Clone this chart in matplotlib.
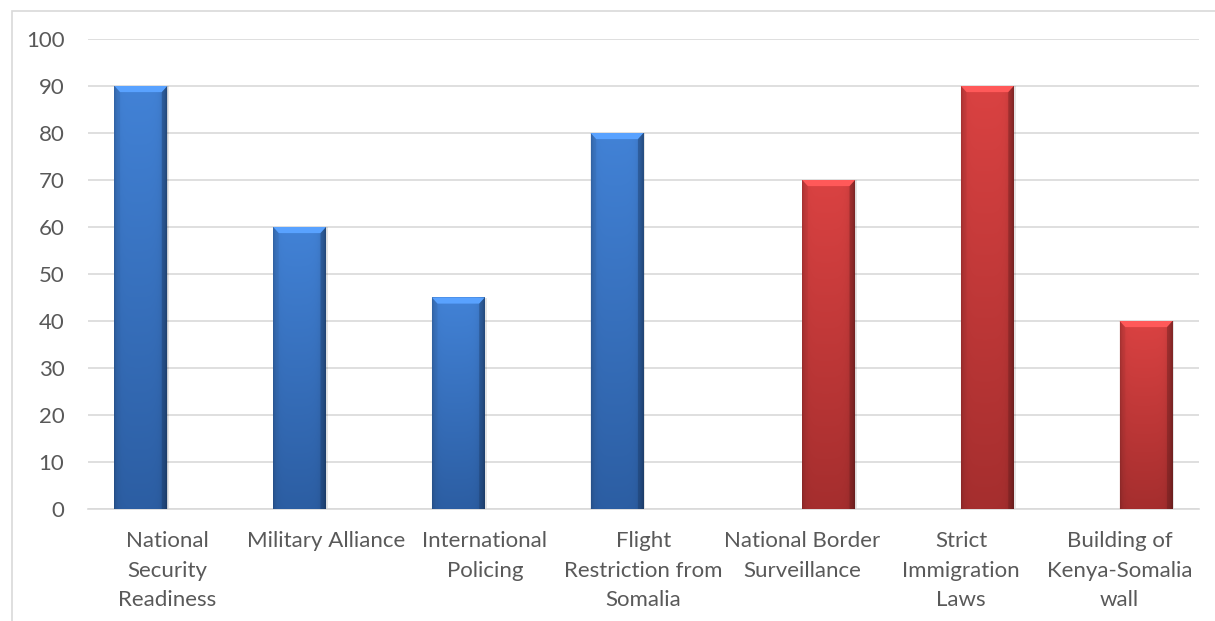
import numpy as np
import matplotlib
matplotlib.use("Agg")
import matplotlib.pyplot as plt
from matplotlib.patches import Rectangle, Polygon

categories = ["National\nSecurity\nReadiness", "Military Alliance", "International\nPolicing",
              "Flight\nRestriction from\nSomalia", "National Border\nSurveillance",
              "Strict\nImmigration\nLaws", "Building of\nKenya-Somalia\nwall"]
blue_values = [90, 60, 45, 80, 0, 0, 0]
red_values = [0, 0, 0, 0, 70, 90, 40]
y_ticks = [0, 10, 20, 30, 40, 50, 60, 70, 80, 90, 100]

plt.rcParams['font.family'] = ['Lato', 'DejaVu Sans']

W, H = 1215, 621
fig = plt.figure(figsize=(W / 100, H / 100), dpi=100)
ax = fig.add_axes([88 / W, (H - 509) / H, (1199 - 88) / W, (509 - 39) / H])

# figure border
fig.patches.append(Rectangle((11.5 / W, -0.1), 1.2, (H - 10.5) / H + 0.1,
                             transform=fig.transFigure, fill=False,
                             edgecolor='#D9D9D9', linewidth=1.2))

x = np.arange(len(categories))
bw = 1 / 3
bars_b = ax.bar(x - bw / 2, blue_values, width=bw, color='none', zorder=3)
bars_r = ax.bar(x + bw / 2, red_values, width=bw, color='none', zorder=3)

ax.set_xlim(-0.5, len(categories) - 0.5)
ax.set_ylim(0, 100)


def shade_bar(rect, top_rgb, bot_rgb):
    h = rect.get_height()
    if h <= 0:
        return
    x0 = rect.get_x()
    w = rect.get_width()
    nx, ny = 60, 200
    xs = np.linspace(0, 1, nx)
    ys = np.linspace(0, 1, ny)[:, None]  # 0 bottom -> 1 top
    top = np.array(top_rgb) / 255
    bot = np.array(bot_rgb) / 255
    base = bot + (top - bot) * ys[..., None]
    prof = 1 - 0.22 * np.exp(-xs / 0.05) - 0.35 * np.exp(-(1 - xs) / 0.06)
    img = base * prof[None, :, None]
    img = np.clip(img, 0, 1)
    ax.imshow(img, extent=[x0, x0 + w, 0, h], origin='lower',
              aspect='auto', zorder=3, interpolation='bilinear')
    # shadow on right
    ax.add_patch(Rectangle((x0 + w, 0), 0.012, h, color='#000000', alpha=0.10,
                           zorder=2, linewidth=0))
    # top bevel
    bev_y = 1.3
    bev_x = 0.035
    lt = np.clip(top * 1.15 + 0.05, 0, 1)
    ax.add_patch(Polygon([[x0, h], [x0 + w, h], [x0 + w - bev_x, h - bev_y],
                          [x0 + bev_x, h - bev_y]], closed=True,
                         facecolor=lt, edgecolor='none', zorder=4))
    ax.add_patch(Polygon([[x0, h], [x0 + bev_x, h - bev_y], [x0 + bev_x, 0], [x0, 0]],
                         closed=True, facecolor=top * 0.75, edgecolor='none',
                         alpha=0.25, zorder=4))
    ax.add_patch(Polygon([[x0 + w, h], [x0 + w - bev_x, h - bev_y], [x0 + w - bev_x, 0],
                          [x0 + w, 0]], closed=True, facecolor=bot * 0.6,
                         edgecolor='none', alpha=0.40, zorder=4))


for r in bars_b:
    shade_bar(r, (66, 130, 214), (44, 94, 163))
for r in bars_r:
    shade_bar(r, (218, 66, 66), (165, 46, 46))

ax.set_yticks(y_ticks)
ax.set_xticks(x)
ax.set_xticklabels(categories, linespacing=1.6)
ax.tick_params(axis='both', length=0, labelsize=16, colors='#595959')
ax.tick_params(axis='y', pad=17)
ax.tick_params(axis='x', pad=16)
ax.yaxis.grid(True, color='#D9D9D9', linewidth=1.2, zorder=0)
ax.set_axisbelow(True)
for s in ['top', 'right', 'left']:
    ax.spines[s].set_visible(False)
ax.spines['bottom'].set_color('#D9D9D9')
ax.spines['bottom'].set_linewidth(1.2)

fig.savefig('out.png', dpi=100)
